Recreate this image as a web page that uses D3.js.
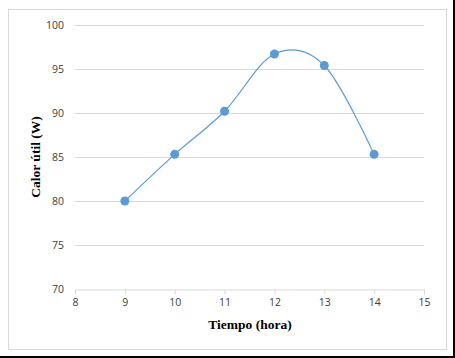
<!DOCTYPE html>
<html><head><meta charset="utf-8">
<script src="https://cdn.jsdelivr.net/npm/d3@7"></script>
<style>body{margin:0;background:#fff}svg{display:block}</style>
</head><body>
<script>
const hours = [9, 10, 11, 12, 13, 14];
const heat = [80.0, 85.3, 90.2, 96.7, 95.4, 85.3];
const xTicks = [8, 9, 10, 11, 12, 13, 14, 15];
const yTicks = [70, 75, 80, 85, 90, 95, 100];

const W = 455, H = 358;
const svg = d3.select("body").append("svg").attr("width", W).attr("height", H);
svg.append("rect").attr("width", W).attr("height", H).attr("fill", "#fff");
// outer black edges
svg.append("line").attr("x1", 0).attr("x2", W).attr("y1", 357).attr("y2", 357).attr("stroke", "#000").attr("stroke-width", 2);
svg.append("line").attr("x1", 454).attr("x2", 454).attr("y1", 0).attr("y2", H).attr("stroke", "#000").attr("stroke-width", 2);
// chart area border
svg.append("rect").attr("x", 8.5).attr("y", 9.5).attr("width", 438).attr("height", 340)
  .attr("fill", "none").attr("stroke", "#d9d9d9").attr("stroke-width", 1);

const x = d3.scaleLinear().domain([8, 15]).range([75, 424]);
const y = d3.scaleLinear().domain([70, 100]).range([289, 25]);

// gridlines
svg.append("g").selectAll("line").data(yTicks.filter(d => d !== 70)).join("line")
  .attr("x1", x(8)).attr("x2", x(15))
  .attr("y1", d => Math.round(y(d)) + 0.5).attr("y2", d => Math.round(y(d)) + 0.5)
  .attr("stroke", "#d9d9d9").attr("stroke-width", 1);

const tickFont = "Open Sans, Liberation Sans, sans-serif";
// x axis
const xa = svg.append("g").attr("transform", `translate(0,${Math.round(y(70)) + 0.5})`)
  .call(d3.axisBottom(x).tickValues(xTicks).tickFormat(d3.format("d")).tickSize(5).tickSizeOuter(0).tickPadding(4));
xa.select(".domain").attr("stroke", "#d9d9d9");
xa.selectAll(".tick line").attr("stroke", "#d9d9d9");
xa.selectAll("text").attr("fill", "#404040").attr("font-family", tickFont).attr("font-size", 10.5);

// y axis labels
const ya = svg.append("g").attr("transform", `translate(${x(8)},0)`)
  .call(d3.axisLeft(y).tickValues(yTicks).tickFormat(d3.format("d")).tickSize(0).tickPadding(11));
ya.select(".domain").remove();
ya.selectAll("text").attr("fill", "#404040").attr("font-family", tickFont).attr("font-size", 10.5);

const pts = hours.map((h, i) => [x(h), y(heat[i])]);
svg.append("path").attr("d", d3.line().curve(d3.curveCardinal.tension(0))(pts))
  .attr("fill", "none").attr("stroke", "#5b9bd5").attr("stroke-width", 1.2);
svg.append("g").selectAll("circle").data(pts).join("circle")
  .attr("cx", d => d[0]).attr("cy", d => d[1]).attr("r", 4.5).attr("fill", "#5b9bd5");

svg.append("text").attr("x", 250).attr("y", 329).attr("text-anchor", "middle")
  .attr("font-family", "Liberation Serif, Times New Roman, serif").attr("font-weight", "bold").attr("font-size", 13.5)
  .text("Tiempo (hora)");
svg.append("text").attr("transform", "translate(40,157) rotate(-90)").attr("text-anchor", "middle")
  .attr("font-family", "Liberation Serif, Times New Roman, serif").attr("font-weight", "bold").attr("font-size", 13.5)
  .text("Calor útil (W)");
</script>
</body></html>
